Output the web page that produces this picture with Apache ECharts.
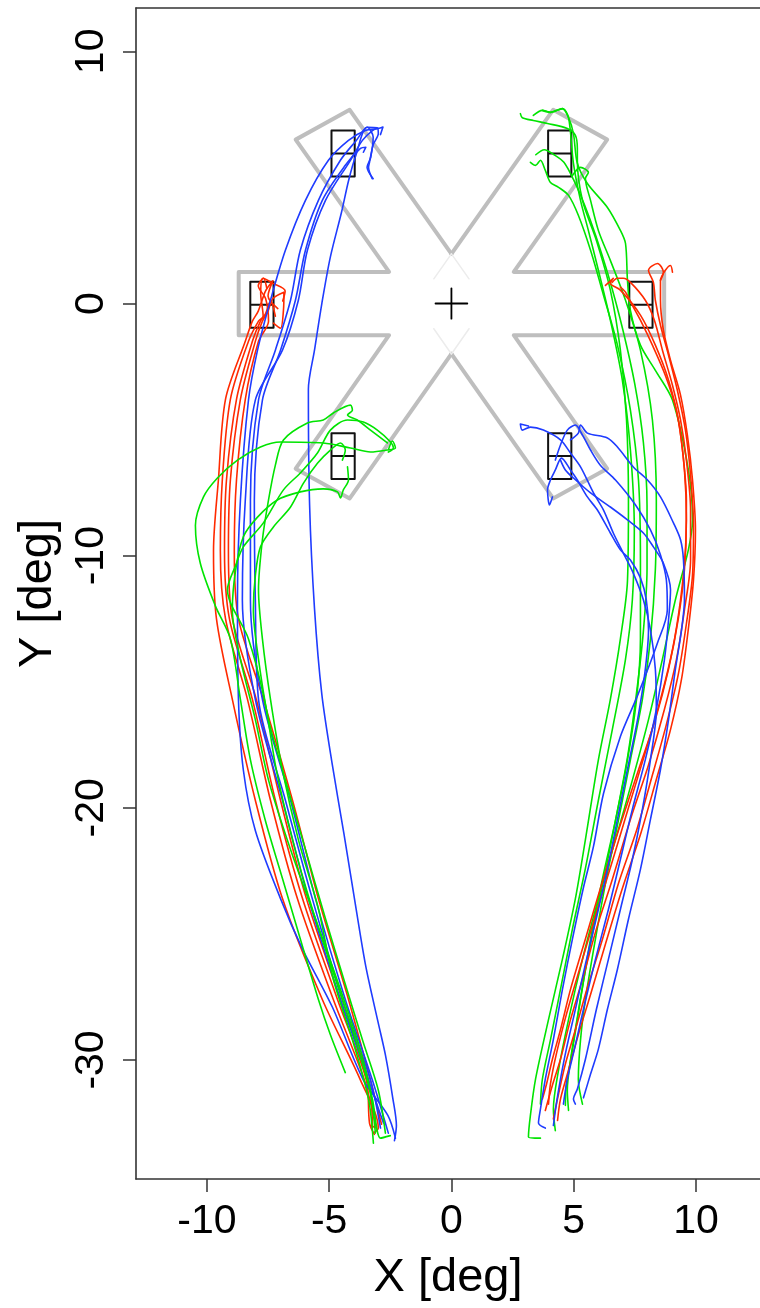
<!DOCTYPE html>
<html>
<head>
<meta charset="utf-8">
<script src="https://cdn.jsdelivr.net/npm/echarts@6/dist/echarts.min.js"></script>
<style>
  html, body { margin: 0; padding: 0; background: #fff; }
  #chart { width: 760px; height: 1308px; }
</style>
</head>
<body>
<div id="chart"></div>
<script>
// ---- axes (degrees of visual angle) ----
const xTicks = [-10, -5, 0, 5, 10];
const yTicks = [-30, -20, -10, 0, 10];
const xRange = [-12.9, 12.62];
const yRange = [-34.72, 11.72];

// ---- targets: box centres [x, y] ----
const targetCentres = [[-4.43, 5.95], [-7.75, -0.05], [-4.43, -6.05], [4.43, 5.95], [7.75, -0.05], [4.43, -6.05]];
const targetHalfWidth = 0.475;
const targetHalfHeight = 0.91;

// ---- stimulus outline (grey arms) ----
const leftArmOutline = [[0, 1.97], [-4.16, 7.68], [-6.37, 6.5], [-2.55, 1.255], [-8.7, 1.255], [-8.7, -1.255], [-2.55, -1.255], [-6.37, -6.55], [-4.16, -7.73], [0, -2.0]];
const rightArmOutline = [[0, 1.97], [4.16, 7.68], [6.37, 6.5], [2.55, 1.255], [8.7, 1.255], [8.7, -1.255], [2.55, -1.255], [6.37, -6.55], [4.16, -7.73], [0, -2.0]];
const fadedEdges = [
  [[0, 1.97], [0.72, 0.98]], [[0, 1.97], [-0.72, 0.98]],
  [[0, -2.0], [0.72, -1.0]], [[0, -2.0], [-0.72, -1.0]]
];
const fixationCross = [[[-0.65, 0], [0.65, 0]], [[0, -0.6], [0, 0.6]]];

// ---- gaze trajectories ----
const leftRedTraces = [
  [[-3.2,-32.9],[-2.99,-32.7],[-3.72,-30.8],[-5.28,-27.6],[-6.91,-23.6],[-8.02,-19.7],[-8.96,-15.7],[-9.61,-12.5],[-9.73,-9.8],[-9.53,-7.0],[-9.24,-3.8],[-8.43,-1.5],[-8.14,-0.7],[-7.9,-0.3],[-7.6,0.5],[-7.3,0.9],[-7.5,0.3],[-7.1,-0.2]],
  [[-3.3,-32.6],[-3.07,-32.7],[-3.56,-30.8],[-4.83,-27.6],[-6.3,-23.6],[-7.4,-19.7],[-8.34,-15.7],[-9.24,-12.5],[-9.45,-9.8],[-9.37,-7.0],[-9.04,-3.8],[-8.3,-1.5],[-7.89,-0.7],[-7.7,-0.5],[-7.8,0.4],[-7.7,1.0],[-7.3,0.8],[-6.8,0.5],[-6.9,0.1]],
  [[-3.23,-32.7],[-3.39,-30.8],[-4.54,-27.6],[-5.93,-23.6],[-6.99,-19.7],[-7.98,-15.7],[-8.96,-12.5],[-9.12,-9.8],[-9.04,-7.0],[-8.63,-3.8],[-8.02,-1.5],[-7.73,-0.7],[-7.5,-0.3],[-7.3,0.2],[-6.85,0.45],[-6.87,-0.27],[-6.99,-0.98],[-7.28,-0.78]],
  [[-2.86,-32.55],[-3.31,-30.8],[-4.21,-27.6],[-5.44,-23.6],[-6.5,-19.7],[-7.69,-15.7],[-8.71,-12.5],[-8.88,-9.8],[-8.79,-7.0],[-8.43,-3.8],[-7.89,-1.5],[-7.48,-0.7],[-7.6,0.2],[-7.9,0.7],[-7.69,1.0],[-7.55,0.6]],
  [[-3.15,-32.95],[-3.35,-32.5],[-3.48,-30.8],[-4.66,-27.6],[-6.09,-23.6],[-7.2,-19.7],[-8.14,-15.7],[-9.08,-12.5],[-9.28,-9.8],[-9.2,-7.0],[-8.79,-3.8],[-8.14,-1.5],[-7.81,-0.7],[-7.6,-0.4],[-7.4,0.1],[-7.2,-0.5]]
];
const leftBlueTraces = [
  [[-2.29,-33.1],[-2.6,-32.2],[-3.6,-30.8],[-4.87,-27.9],[-6.09,-25.6],[-6.99,-23.6],[-8.02,-20.9],[-8.51,-18.5],[-8.71,-15.7],[-8.75,-11.75],[-8.63,-7.8],[-8.3,-3.83],[-7.93,-1.85],[-7.4,0.13],[-6.79,2.11],[-5.97,4.09],[-5.03,5.68],[-4.21,6.47],[-3.52,6.86],[-2.99,6.94],[-2.8,7.0],[-2.9,6.7]],
  [[-2.58,-32.9],[-3.23,-30.8],[-4.34,-27.6],[-5.56,-23.6],[-6.58,-19.7],[-7.73,-15.7],[-8.22,-11.75],[-8.22,-7.8],[-7.89,-3.83],[-7.2,-1.85],[-6.58,0.13],[-6.18,2.11],[-5.44,4.09],[-4.54,5.68],[-3.89,6.47],[-3.45,6.99],[-3.2,6.6],[-3.3,5.8],[-3.45,5.4],[-3.2,4.95]],
  [[-2.9,-32.7],[-3.31,-30.8],[-4.46,-27.6],[-5.69,-23.6],[-6.79,-19.7],[-7.89,-15.7],[-8.02,-11.75],[-8.06,-7.8],[-7.73,-3.83],[-6.99,-1.85],[-6.38,0.13],[-5.97,2.11],[-5.28,4.09],[-4.34,5.48],[-3.72,6.15],[-3.5,6.2],[-3.6,6.0]],
  [[-2.78,-32.5],[-3.39,-30.8],[-4.54,-27.6],[-5.85,-23.6],[-6.91,-19.7],[-8.02,-15.7],[-8.55,-11.75],[-8.43,-7.8],[-8.02,-3.83],[-6.91,-1.85],[-6.26,0.13],[-5.89,2.11],[-5.15,4.09],[-4.13,5.68],[-3.64,6.47],[-3.23,6.86],[-3.0,6.95]],
  [[-2.33,-33.2],[-2.25,-32.6],[-2.4,-31.5],[-2.7,-29.8],[-3.0,-28.5],[-3.5,-26.3],[-3.9,-24.0],[-4.4,-21.0],[-4.87,-18.3],[-5.3,-15.5],[-5.6,-12.1],[-5.8,-8.0],[-5.85,-3.4],[-5.6,-1.85],[-5.3,0.0],[-4.95,1.85],[-4.5,3.6],[-4.2,4.9],[-3.9,5.9],[-3.45,6.99],[-3.04,6.97],[-2.99,6.74],[-3.2,6.3],[-3.35,5.6],[-3.39,5.4],[-3.24,4.95]]
];
const leftGreenTraces = [
  [[-4.34,-30.5],[-4.95,-29.0],[-5.44,-27.6],[-6.18,-25.2],[-6.91,-22.8],[-7.61,-20.5],[-8.22,-18.1],[-8.63,-15.7],[-9.04,-13.3],[-9.65,-12.0],[-10.27,-10.3],[-10.47,-8.8],[-10.14,-7.67],[-9.57,-6.92],[-8.75,-6.21],[-7.81,-5.69],[-6.99,-5.49],[-5.24,-5.53],[-4.13,-5.73],[-3.31,-5.89],[-2.62,-5.81],[-2.29,-5.73],[-2.41,-5.45],[-2.58,-5.81]],
  [[-2.5,-33.0],[-2.9,-33.1],[-3.23,-31.55],[-3.72,-29.6],[-4.54,-27.2],[-5.56,-24.4],[-6.58,-21.65],[-7.48,-18.9],[-8.02,-16.5],[-8.63,-14.1],[-8.96,-12.15],[-8.83,-10.6],[-8.51,-9.25],[-7.93,-8.47],[-7.12,-7.79],[-6.18,-7.47],[-5.24,-7.35],[-4.66,-7.47],[-4.54,-7.71],[-4.42,-7.39],[-4.21,-7.0],[-4.25,-6.48]],
  [[-2.7,-32.9],[-2.99,-31.2],[-3.64,-29.2],[-4.34,-27.0],[-5.15,-24.4],[-5.97,-21.65],[-6.79,-18.9],[-7.48,-16.5],[-7.89,-14.1],[-8.1,-12.15],[-8.02,-10.8],[-7.81,-9.65],[-7.28,-8.86],[-6.58,-8.07],[-6.05,-7.12],[-5.48,-6.33],[-4.95,-5.81],[-4.54,-5.53],[-4.34,-5.81],[-4.46,-6.21]],
  [[-3.11,-32.9],[-3.31,-31.35],[-3.93,-29.2],[-4.74,-26.8],[-5.69,-24.0],[-6.5,-21.26],[-7.16,-18.5],[-7.65,-15.7],[-8.3,-13.3],[-9.16,-11.35],[-8.83,-10.4],[-8.51,-9.65],[-7.69,-8.7],[-6.87,-7.39],[-6.18,-6.72],[-5.48,-5.93],[-4.95,-5.02],[-4.25,-4.62],[-3.6,-4.7],[-3.03,-5.02],[-2.49,-5.49],[-2.37,-5.73],[-2.58,-5.89]],
  [[-3.19,-33.3],[-3.39,-31.55],[-4.05,-29.2],[-4.83,-26.8],[-5.44,-24.0],[-6.26,-21.26],[-6.91,-18.5],[-7.4,-15.7],[-7.73,-13.3],[-7.89,-11.35],[-7.73,-9.37],[-7.48,-7.79],[-7.2,-6.41],[-6.87,-5.41],[-5.89,-4.74],[-5.24,-4.62],[-4.83,-4.34],[-4.13,-4.03],[-4.05,-4.23],[-4.25,-4.42],[-3.85,-4.62],[-3.31,-5.02],[-2.62,-5.53]]
];
const rightGreenTraces = [
  [[3.64,-33.1],[3.15,-33.05],[3.23,-32.2],[3.44,-30.76],[3.97,-28.4],[4.54,-26.0],[5.07,-23.6],[5.48,-21.26],[6.01,-18.1],[6.5,-15.7],[6.91,-13.3],[7.2,-11.0],[7.24,-7.8],[7.16,-4.6],[6.91,-1.85],[6.5,0.53],[5.93,2.5],[5.36,4.09],[5.15,5.68],[5.15,6.15],[5.07,6.67],[4.74,6.94],[3.93,7.14],[3.35,7.26],[2.9,7.37],[2.82,7.53]],
  [[3.64,-31.75],[3.72,-30.76],[4.05,-29.2],[4.46,-27.2],[4.95,-24.8],[5.48,-22.4],[6.01,-19.7],[6.58,-16.9],[7.12,-14.1],[7.4,-11.75],[7.48,-8.98],[7.32,-5.81],[6.99,-3.04],[6.5,-0.66],[6.01,1.32],[5.6,2.9],[5.28,4.09],[4.99,5.56],[4.79,7.37],[4.54,7.73],[4.05,7.58],[3.72,7.66],[3.35,7.46]],
  [[4.66,-31.8],[4.7,-31.0],[4.95,-29.6],[5.28,-27.6],[5.69,-25.2],[6.18,-22.8],[6.71,-20.5],[7.2,-18.1],[7.57,-15.7],[7.73,-13.3],[7.73,-10.2],[7.65,-7.0],[7.32,-4.23],[6.79,-1.65],[6.22,0.33],[5.69,2.11],[5.19,3.5],[4.79,4.29],[4.38,4.61],[4.05,4.8],[3.84,5.28],[3.64,5.68],[3.44,5.48],[3.23,5.6]],
  [[5.36,-31.75],[5.19,-30.76],[5.28,-29.2],[5.48,-27.6],[5.89,-25.2],[6.34,-22.8],[6.83,-20.5],[7.32,-18.1],[7.81,-15.7],[8.14,-13.3],[8.34,-10.56],[8.38,-7.79],[8.22,-4.62],[7.73,-1.85],[7.12,0.13],[6.5,1.71],[6.01,2.9],[5.69,4.09],[5.48,4.96],[5.6,5.2],[5.28,5.4],[4.95,5.08]],
  [[4.25,-32.8],[4.17,-31.95],[4.38,-30.4],[4.79,-28.4],[5.36,-26.0],[6.01,-23.6],[6.71,-21.26],[7.4,-18.9],[8.06,-16.5],[8.63,-14.1],[9.16,-11.75],[9.69,-9.77],[9.86,-8.58],[9.69,-6.6],[9.04,-3.83],[8.34,-2.65],[7.73,-1.65],[7.32,-0.27],[7.2,0.92],[7.12,2.38],[6.91,2.9],[6.38,3.81],[5.56,4.76],[5.15,5.56],[4.99,6.74],[4.79,7.37],[4.54,7.73],[4.05,7.58],[3.72,7.66]],
  [[4.79,-32.0],[4.74,-31.2],[4.87,-30.0],[5.1,-28.6],[5.45,-26.6],[5.85,-24.6],[6.3,-22.5],[6.75,-20.3],[7.2,-18.0],[7.55,-15.6],[7.85,-13.0],[8.0,-10.5],[8.0,-8.0],[7.85,-5.5],[7.5,-3.2],[7.0,-1.0],[6.45,1.0],[5.9,2.7],[5.45,3.9],[5.0,4.9],[4.6,5.6],[4.2,5.9],[3.8,6.1],[3.45,5.9]]
];
const rightRedTraces = [
  [[3.72,-31.55],[3.89,-30.95],[4.13,-29.97],[4.46,-28.8],[4.87,-27.2],[5.48,-25.2],[6.09,-23.2],[6.83,-20.9],[7.65,-18.5],[8.34,-16.5],[8.88,-14.5],[9.28,-12.5],[9.53,-10.56],[9.61,-8.58],[9.53,-6.6],[9.28,-4.62],[8.88,-3.04],[8.34,-1.65],[7.73,-0.46],[6.91,0.53],[6.5,0.8],[6.62,1.0],[6.3,0.72]],
  [[3.84,-32.0],[4.13,-31.0],[4.46,-29.97],[4.87,-28.4],[5.36,-26.8],[5.93,-24.8],[6.58,-22.84],[7.32,-20.46],[8.06,-18.3],[8.71,-16.1],[9.2,-14.13],[9.53,-12.15],[9.78,-10.17],[9.78,-8.19],[9.61,-6.21],[9.37,-4.62],[9.04,-3.24],[8.63,-1.85],[8.3,-0.66],[7.93,0.13],[7.32,0.84],[7.03,1.0],[6.79,1.0],[6.58,0.84]],
  [[4.17,-32.34],[4.38,-31.35],[4.66,-30.16],[5.07,-28.8],[5.6,-27.0],[6.18,-25.2],[6.83,-23.0],[7.57,-20.9],[8.22,-18.7],[8.79,-16.7],[9.28,-14.7],[9.61,-12.7],[9.86,-10.76],[9.9,-8.78],[9.78,-6.8],[9.57,-5.02],[9.24,-3.44],[8.88,-2.05],[8.55,-0.86],[8.34,0.13],[8.26,0.84],[8.06,1.32],[8.43,1.59],[8.67,1.24],[8.55,0.92]],
  [[4.34,-32.4],[4.46,-31.55],[4.79,-30.4],[5.19,-29.0],[5.69,-27.4],[6.3,-25.4],[6.99,-23.2],[7.73,-21.06],[8.38,-18.88],[8.96,-16.9],[9.41,-14.9],[9.69,-12.9],[9.9,-10.96],[9.98,-8.98],[9.86,-7.0],[9.65,-5.22],[9.37,-3.63],[8.96,-2.25],[8.67,-1.06],[8.55,0.13],[8.55,0.92],[8.75,1.32],[8.96,1.51],[9.04,1.24]],
  [[3.97,-31.75],[4.05,-30.95],[4.29,-29.77],[4.7,-28.2],[5.24,-26.4],[5.85,-24.4],[6.54,-22.25],[7.24,-20.0],[7.93,-17.8],[8.55,-15.7],[9.04,-13.73],[9.37,-11.75],[9.57,-9.77],[9.61,-7.79],[9.45,-5.81],[9.2,-4.23],[8.75,-2.85],[8.22,-1.65],[7.73,-0.66],[7.4,-0.07],[7.12,0.45],[6.91,0.65]]
];
const rightBlueTraces = [
  [[5.4,-31.5],[5.69,-30.56],[6.01,-29.57],[6.38,-27.99],[6.79,-26.4],[7.24,-24.42],[7.73,-22.44],[8.14,-20.46],[8.55,-18.48],[8.88,-16.5],[9.16,-14.5],[9.41,-12.94],[9.53,-11.75],[9.49,-10.17],[9.37,-9.37],[9.08,-8.7],[8.55,-7.67],[8.02,-7.0],[7.44,-6.48],[6.79,-5.69],[6.38,-5.33],[5.56,-5.14],[5.28,-4.82],[5.19,-5.14],[4.87,-5.41]],
  [[4.58,-31.75],[4.74,-30.76],[5.03,-29.57],[5.4,-27.99],[5.89,-26.01],[6.42,-24.03],[6.91,-22.05],[7.4,-20.06],[7.93,-18.09],[8.38,-16.1],[8.71,-14.13],[8.88,-12.54],[8.96,-11.35],[8.67,-10.3],[8.26,-9.65],[7.85,-9.1],[7.2,-8.58],[6.5,-8.07],[5.69,-7.51],[4.99,-6.92],[4.66,-6.6],[4.46,-6.21]],
  [[3.84,-32.7],[3.56,-32.5],[3.64,-31.95],[3.84,-30.76],[4.17,-29.18],[4.54,-27.2],[4.95,-25.2],[5.4,-23.16],[5.81,-21.53],[6.22,-19.43],[6.91,-17.17],[7.61,-15.55],[8.43,-13.45],[8.83,-12.14],[8.79,-10.96],[8.55,-9.97],[8.14,-8.98],[7.53,-7.99],[6.71,-7.0],[6.09,-6.41],[5.69,-5.81],[5.36,-5.22],[5.07,-4.82],[4.74,-5.02],[4.46,-5.61],[4.25,-6.21]],
  [[5.07,-31.75],[4.99,-31.55],[5.15,-31.15],[5.48,-29.97],[5.93,-27.99],[6.42,-26.01],[6.91,-24.03],[7.4,-22.05],[7.81,-20.06],[8.14,-18.09],[8.38,-16.1],[8.34,-14.5],[8.14,-12.94],[7.85,-11.75],[7.44,-10.7],[7.03,-9.9],[6.62,-9.1],[6.22,-8.19],[5.81,-7.51],[5.28,-6.48],[4.87,-5.93],[4.46,-5.41],[3.76,-5.02],[3.23,-4.9],[2.9,-5.02],[2.82,-4.78],[3.15,-4.86]],
  [[4.17,-32.6],[4.29,-31.75],[4.46,-30.76],[4.7,-29.57],[5.07,-27.99],[5.48,-26.2],[5.97,-24.2],[6.42,-22.25],[6.83,-20.26],[7.24,-18.28],[7.65,-16.3],[7.93,-14.5],[8.06,-12.94],[7.97,-11.75],[7.73,-10.88],[7.32,-10.17],[6.91,-9.77],[6.5,-9.1],[5.97,-8.19],[5.56,-7.67],[5.15,-7.0],[4.87,-6.6],[4.5,-6.13],[4.25,-6.6],[4.05,-7.0],[3.93,-7.39],[4.01,-7.99],[4.13,-7.67]]
];

// ---- drawing ----
const RED = '#ff2a00', GREEN = '#00e400', BLUE = '#1f3cff';
const FONT = 'Liberation Sans, Arial, sans-serif';
const FRAME = { color: '#333', width: 1.6 };

function path(data, color, width, z, smooth) {
  return {
    type: 'line', data: data, symbol: 'none', showSymbol: false, silent: true,
    smooth: smooth || false, z: z, clip: true,
    lineStyle: { color: color, width: width, cap: 'round', join: 'round' }
  };
}

function boxPath(c) {
  const x0 = c[0] - targetHalfWidth, x1 = c[0] + targetHalfWidth;
  const y0 = c[1] - targetHalfHeight, y1 = c[1] + targetHalfHeight;
  return [[x0, c[1]], [x0, y1], [x1, y1], [x1, y0], [x0, y0], [x0, c[1]], [x1, c[1]]];
}

const series = [];
series.push(path(leftArmOutline, '#bebebe', 4, 1));
series.push(path(rightArmOutline, '#bebebe', 4, 1));
fadedEdges.forEach(e => series.push(path(e, '#ececec', 1.5, 1)));
targetCentres.forEach(c => series.push(path(boxPath(c), '#111', 2, 2)));

const groups = [
  [leftRedTraces, RED], [leftBlueTraces, BLUE], [leftGreenTraces, GREEN],
  [rightGreenTraces, GREEN], [rightRedTraces, RED], [rightBlueTraces, BLUE]
];
groups.forEach(g => g[0].forEach(t => series.push(path(t, g[1], 1.6, 3, 0.3))));
fixationCross.forEach(s => series.push(path(s, '#000', 1.8, 4)));

const chart = echarts.init(document.getElementById('chart'), null, { renderer: 'canvas' });
chart.setOption({
  animation: false,
  backgroundColor: '#fff',
  grid: { left: 136, right: 0, top: 8, bottom: 129, show: false },
  xAxis: [{
    type: 'value', min: xRange[0], max: xRange[1], position: 'bottom',
    axisLine: { show: true, onZero: false, lineStyle: FRAME }, splitLine: { show: false },
    axisTick: { show: true, length: 13, lineStyle: { color: '#333', width: 1.5 }, customValues: xTicks },
    axisLabel: { customValues: xTicks, fontSize: 41, color: '#000', fontFamily: FONT, margin: 22 },
    name: 'X [deg]', nameLocation: 'middle', nameGap: 76,
    nameTextStyle: { fontSize: 47, color: '#000', fontFamily: FONT }
  }, {
    // top edge of the plot frame
    type: 'value', min: xRange[0], max: xRange[1], position: 'top',
    axisLine: { show: true, onZero: false, lineStyle: FRAME },
    axisTick: { show: false }, axisLabel: { show: false }, splitLine: { show: false }
  }],
  yAxis: {
    type: 'value', min: yRange[0], max: yRange[1], position: 'left',
    axisLine: { show: true, onZero: false, lineStyle: FRAME }, splitLine: { show: false },
    axisTick: { show: true, length: 13, lineStyle: { color: '#333', width: 1.5 }, customValues: yTicks },
    axisLabel: { customValues: yTicks, rotate: 90, fontSize: 41, color: '#000', fontFamily: FONT, margin: 24 },
    name: 'Y [deg]', nameLocation: 'middle', nameGap: 74, nameRotate: 90,
    nameTextStyle: { fontSize: 47, color: '#000', fontFamily: FONT }
  },
  series: series
});
</script>
</body>
</html>
